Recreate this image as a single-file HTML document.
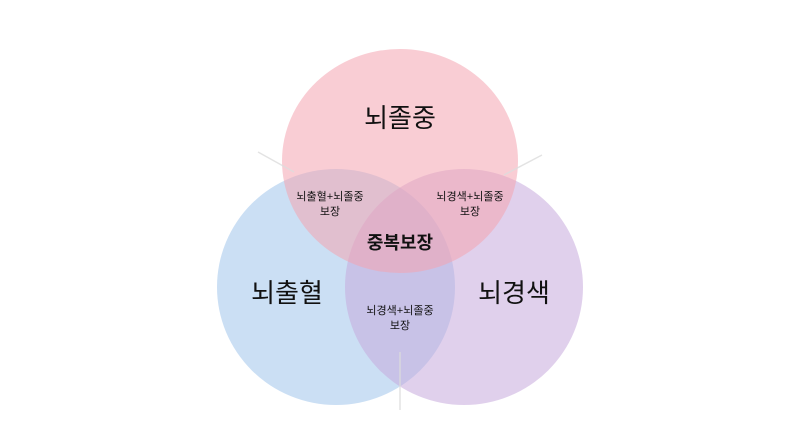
<!DOCTYPE html>
<html><head><meta charset="utf-8"><style>
html,body{margin:0;padding:0;background:#fff;}
</style></head><body>
<svg width="800" height="446" xmlns="http://www.w3.org/2000/svg" style="display:block;font-family:'Liberation Sans','Noto Sans CJK KR',sans-serif">
<rect width="800" height="446" fill="#fff"/>
<ellipse cx="336" cy="287" rx="119" ry="118" fill="#a9c9ec" opacity="0.6"/>
<ellipse cx="464" cy="287" rx="119" ry="118" fill="#c6a9dc" opacity="0.55"/>
<ellipse cx="400" cy="161" rx="118" ry="112" fill="#f4a4b0" opacity="0.55"/>
<line x1="258" y1="152" x2="294" y2="172" stroke="#ddd" stroke-width="1.5" opacity="0.8"/>
<line x1="542" y1="155" x2="504" y2="175" stroke="#ddd" stroke-width="1.5" opacity="0.8"/>
<line x1="400" y1="352" x2="400" y2="410" stroke="#ddd" stroke-width="1.5" opacity="0.8"/>
<g fill="#111" text-anchor="middle">
<text x="400" y="127" font-size="26">뇌졸중</text>
<text x="287" y="302" font-size="26">뇌출혈</text>
<text x="514" y="302" font-size="26">뇌경색</text>
<text x="400" y="249" font-size="18" font-weight="bold">중복보장</text>
<text x="330" y="200" font-size="11">뇌출혈+뇌졸중</text>
<text x="330" y="215" font-size="11">보장</text>
<text x="470" y="200" font-size="11">뇌경색+뇌졸중</text>
<text x="470" y="215" font-size="11">보장</text>
<text x="400" y="314" font-size="11">뇌경색+뇌졸중</text>
<text x="400" y="329" font-size="11">보장</text>
</g>
</svg>
</body></html>
